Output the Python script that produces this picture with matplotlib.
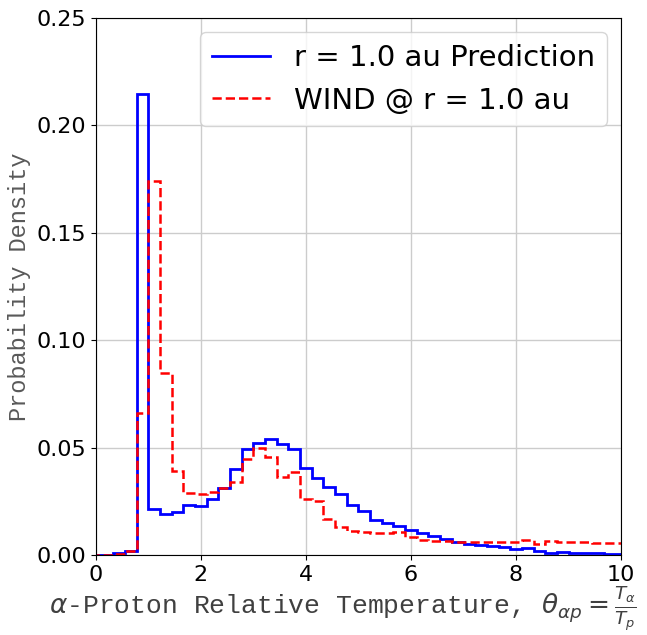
import numpy as np
import matplotlib
matplotlib.use("Agg")
import matplotlib.pyplot as plt

# histogram bin edges (width 2/9, centred on multiples of 2/9)
bin_edges = np.linspace(-1 / 9, 91 / 9, 47)

# r = 1.0 au prediction (probability density per bin)
pred_density = [
    0.0, 0.0, 0.0008, 0.0018, 0.2145, 0.0213, 0.0192, 0.0200, 0.0231, 0.0228,
    0.0262, 0.0312, 0.0400, 0.0492, 0.0523, 0.0542, 0.0517, 0.0495, 0.0403, 0.0357,
    0.0315, 0.0283, 0.0233, 0.0205, 0.0163, 0.0150, 0.0135, 0.0116, 0.0102, 0.0088,
    0.0073, 0.0062, 0.0051, 0.0045, 0.0043, 0.0039, 0.0026, 0.0031, 0.0020, 0.0011,
    0.0015, 0.0011, 0.0008, 0.0008, 0.0005, 0.0005,
]

# WIND observations at r = 1.0 au
wind_density = [
    0.0, 0.0, 0.0005, 0.0020, 0.0663, 0.1740, 0.0846, 0.0393, 0.0290, 0.0285,
    0.0292, 0.0310, 0.0341, 0.0445, 0.0497, 0.0458, 0.0365, 0.0388, 0.0261, 0.0253,
    0.0166, 0.0129, 0.0112, 0.0109, 0.0101, 0.0101, 0.0109, 0.0082, 0.0072, 0.0066,
    0.0064, 0.0062, 0.0062, 0.0060, 0.0059, 0.0059, 0.0059, 0.0068, 0.0052, 0.0065,
    0.0060, 0.0059, 0.0059, 0.0058, 0.0056, 0.0056,
]

x_ticks = [0, 2, 4, 6, 8, 10]
y_ticks = [0.00, 0.05, 0.10, 0.15, 0.20, 0.25]

plt.rcParams["mathtext.fontset"] = "dejavusans"

fig = plt.figure(figsize=(6.47, 6.35), dpi=100)
ax = fig.add_axes([0.148, 0.126, 0.812, 0.846])

ax.stairs(pred_density, bin_edges, color="blue", lw=2, label="r = 1.0 au Prediction")
ax.stairs(wind_density, bin_edges, color="red", lw=1.8, ls="--", label="WIND @ r = 1.0 au")

ax.set_xlim(0, 10)
ax.set_ylim(0, 0.25)
ax.set_xticks(x_ticks)
ax.set_yticks(y_ticks)
ax.tick_params(labelsize=16)
ax.grid(True, color="#cccccc", lw=1)
ax.set_axisbelow(True)

ax.set_ylabel("Probability Density", family="Liberation Mono", size=17, color="0.35")
ax.set_xlabel(r"$\alpha$-Proton Relative Temperature, $\theta_{\alpha p} = \frac{T_\alpha}{T_p}$",
              family="Liberation Mono", size=19, color="0.25")
ax.xaxis.set_label_coords(0.471, -0.052)

ax.legend(loc="upper right", fontsize=21, framealpha=0.8)

fig.savefig("out.png", dpi=100)
